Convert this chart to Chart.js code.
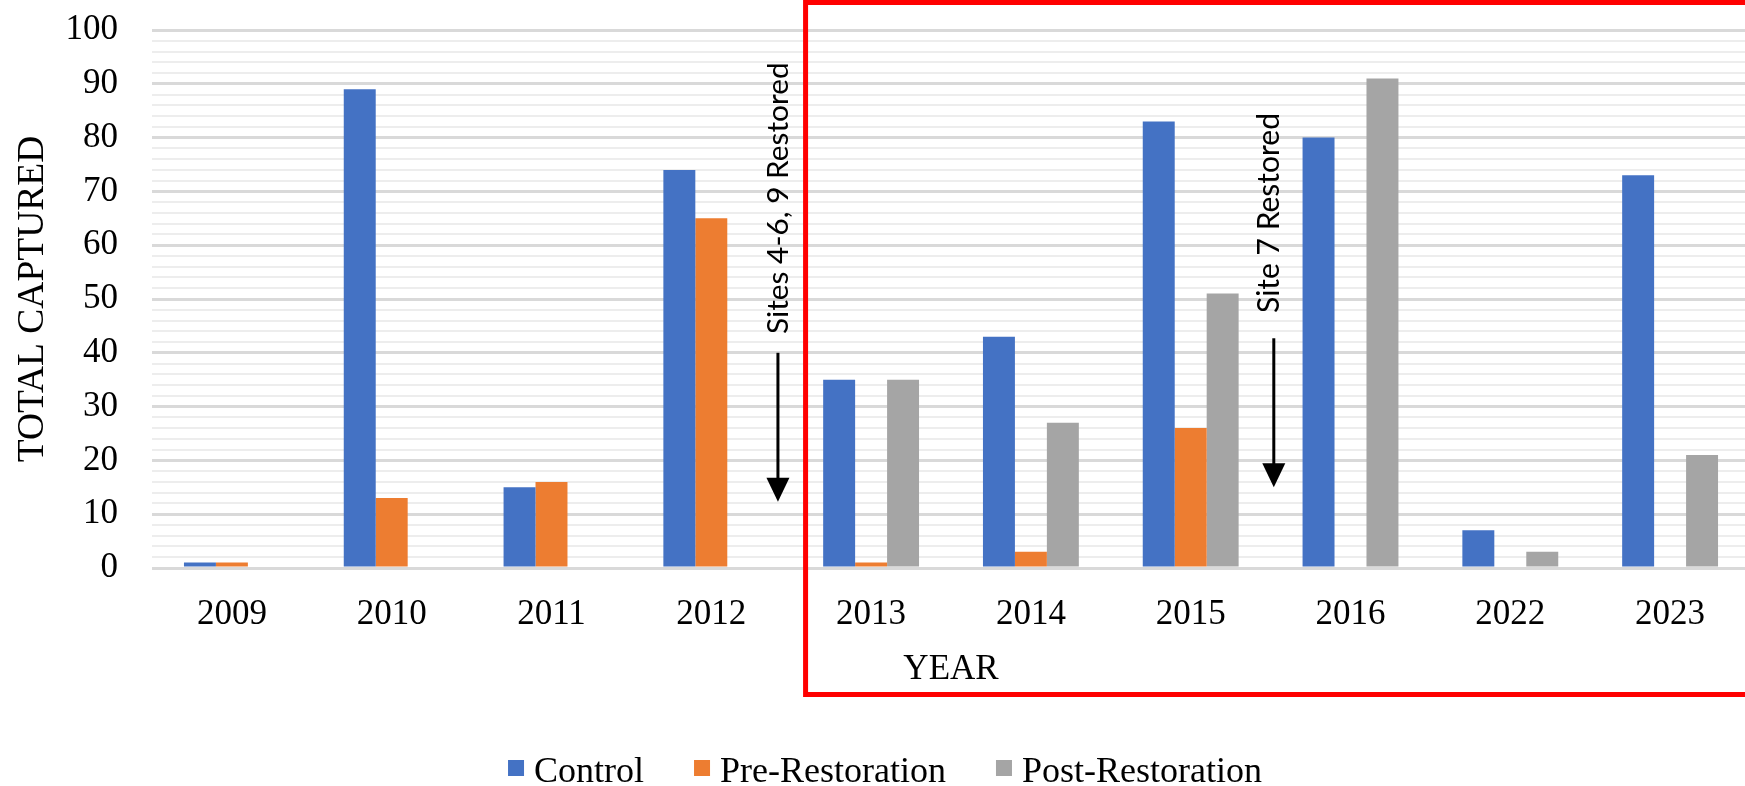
<!DOCTYPE html>
<html>
<head>
<meta charset="utf-8">
<script src="https://cdn.jsdelivr.net/npm/chart.js@4.4.1/dist/chart.umd.min.js"></script>
<style>
  html, body { margin: 0; padding: 0; background: #ffffff; overflow: hidden; }
  #wrap { width: 1770px; height: 786px; }
</style>
</head>
<body>
<div id="wrap"><canvas id="chart" width="1770" height="786"></canvas></div>
<script>
// Sampling years and catch totals per site group
const years = ['2009', '2010', '2011', '2012', '2013', '2014', '2015', '2016', '2022', '2023'];
const control = [1, 89, 15, 74, 35, 43, 83, 80, 7, 73];
const preRestoration = [1, 13, 16, 65, 1, 3, 26, null, null, null];
const postRestoration = [null, null, null, null, 35, 27, 51, 91, 3, 21];

const seriesNames = ['Control', 'Pre-Restoration', 'Post-Restoration'];
const yTickLabels = [0, 10, 20, 30, 40, 50, 60, 70, 80, 90, 100];
const restorationNotes = ['Sites 4-6, 9 Restored', 'Site 7 Restored'];

const COLORS = ['#4472C4', '#ED7D31', '#A5A5A5'];
const SERIF = '"Liberation Serif", "Times New Roman", serif';
const SANS = 'Lato, "Open Sans", sans-serif';

// Placement of the restoration notes (x in category units, y in axis units)
const NOTE_LAYOUT = [
  { x: 3.417, textX: 3.417, textFrom: 43.5, textTo: 94.0, arrowFrom: 40.0, arrowTo: 12.3 },
  { x: 6.520, textX: 6.495, textFrom: 47.4, textTo: 84.6, arrowFrom: 42.7, arrowTo: 15.0 }
];

const notesPlugin = {
  id: 'restorationNotes',
  afterDatasetsDraw(chart) {
    const { ctx, scales: { x, y } } = chart;
    restorationNotes.forEach((text, i) => {
      const n = NOTE_LAYOUT[i];
      const px = x.getPixelForValue(n.x);
      const yStart = y.getPixelForValue(n.arrowFrom);
      const yTip = y.getPixelForValue(n.arrowTo);
      ctx.save();
      ctx.strokeStyle = '#000';
      ctx.fillStyle = '#000';
      ctx.lineWidth = 3;
      ctx.beginPath();
      ctx.moveTo(px, yStart);
      ctx.lineTo(px, yTip - 20);
      ctx.stroke();
      ctx.beginPath();
      ctx.moveTo(px - 11.5, yTip - 24);
      ctx.lineTo(px + 11.5, yTip - 24);
      ctx.lineTo(px, yTip);
      ctx.closePath();
      ctx.fill();

      const tx = x.getPixelForValue(n.textX);
      const tb = y.getPixelForValue(n.textFrom);
      const tt = y.getPixelForValue(n.textTo);
      ctx.font = '32px ' + SANS;
      const size = 32 * (tb - tt) / ctx.measureText(text).width;
      ctx.font = size.toFixed(2) + 'px ' + SANS;
      ctx.translate(tx, tb);
      ctx.rotate(-Math.PI / 2);
      ctx.textAlign = 'left';
      ctx.textBaseline = 'middle';
      ctx.fillText(text, 0, 0);
      ctx.restore();
    });
  }
};

const framePlugin = {
  id: 'restoredFrame',
  afterDraw(chart) {
    const { ctx, scales: { x } } = chart;
    const left = x.getPixelForValue(3.59);
    ctx.save();
    ctx.strokeStyle = '#ff0000';
    ctx.lineWidth = 5;
    ctx.strokeRect(left, 2.5, chart.width - 8 - left, 692);
    ctx.restore();
  }
};

const legendPlugin = {
  id: 'bottomLegend',
  afterDraw(chart) {
    const { ctx } = chart;
    const box = 16, gapText = 10, gapItem = 50;
    ctx.save();
    ctx.font = '36px ' + SERIF;
    const items = chart.data.datasets.map(d => ({
      label: d.label, color: d.backgroundColor, w: ctx.measureText(d.label).width
    }));
    const total = items.reduce((s, it) => s + box + gapText + it.w, 0) + gapItem * (items.length - 1);
    let cx = chart.width / 2 - total / 2;
    const cy = 768;
    items.forEach(it => {
      ctx.fillStyle = it.color;
      ctx.fillRect(cx, cy - box / 2, box, box);
      cx += box + gapText;
      ctx.fillStyle = '#000';
      ctx.textAlign = 'left';
      ctx.textBaseline = 'alphabetic';
      ctx.fillText(it.label, cx, 782);
      cx += it.w + gapItem;
    });
    ctx.restore();
  }
};

new Chart(document.getElementById('chart'), {
  type: 'bar',
  data: {
    labels: years,
    datasets: [
      { label: seriesNames[0], data: control, backgroundColor: COLORS[0] },
      { label: seriesNames[1], data: preRestoration, backgroundColor: COLORS[1] },
      { label: seriesNames[2], data: postRestoration, backgroundColor: COLORS[2] }
    ]
  },
  options: {
    responsive: false,
    animation: false,
    devicePixelRatio: 1,
    layout: { padding: { top: 30, right: 20, bottom: 0, left: 0 } },
    datasets: { bar: { categoryPercentage: 0.6, barPercentage: 1.0, borderWidth: 0 } },
    plugins: { legend: { display: false }, tooltip: { enabled: false } },
    scales: {
      x: {
        grid: { display: false, drawTicks: false },
        border: { display: false },
        ticks: {
          font: { family: SERIF, size: 35 },
          color: '#000',
          padding: 26,
          maxRotation: 0,
          autoSkip: false
        },
        title: {
          display: true,
          text: 'YEAR',
          font: { family: SERIF, size: 35 },
          color: '#000',
          padding: { top: 0, bottom: 95 }
        },
        afterFit(scale) {
          scale.height = 218;
          scale.paddingLeft = 0;
          scale.paddingRight = 0;
        }
      },
      y: {
        min: 0,
        max: 100,
        grid: {
          drawTicks: false,
          color: ctx => (ctx.tick && ctx.tick.value % 10 === 0) ? '#d9d9d9' : '#ededed',
          lineWidth: ctx => (ctx.tick && ctx.tick.value % 10 === 0) ? 3 : 2
        },
        border: { display: false },
        ticks: {
          stepSize: 2,
          autoSkip: false,
          font: { family: SERIF, size: 35 },
          color: '#000',
          padding: 34,
          callback: v => yTickLabels.includes(v) ? String(v) : ''
        },
        title: {
          display: true,
          text: 'TOTAL CAPTURED',
          font: { family: SERIF, size: 37.5 },
          color: '#000',
          padding: { top: 11, bottom: 0 }
        },
        afterFit(scale) {
          scale.width = 152;
          scale.paddingTop = 0;
          scale.paddingBottom = 0;
        }
      }
    }
  },
  plugins: [notesPlugin, framePlugin, legendPlugin]
});
</script>
</body>
</html>
